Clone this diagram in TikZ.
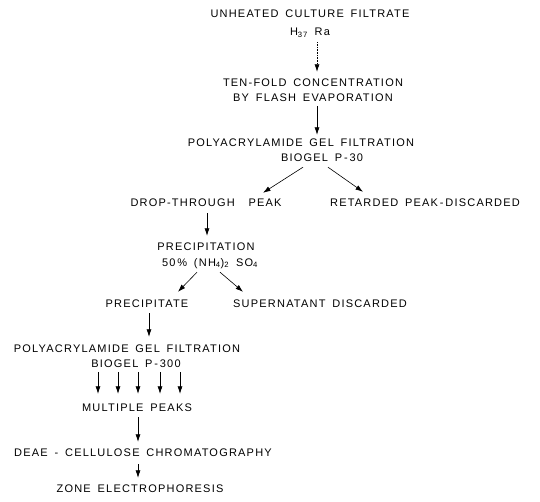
\documentclass[tikz,border=0pt]{standalone}
\usepackage{fontspec}
\setmainfont{Liberation Sans}[LetterSpace=11, WordSpace=1.6]
\usetikzlibrary{arrows.meta, calc}

\begin{document}
\begin{tikzpicture}[x=1pt, y=-1pt, >={Latex[length=7.5pt,width=5pt]},
    lbl/.style={font=\fontsize{11}{13}\selectfont, inner sep=0pt,
        text height=8pt, text depth=0pt},
    flow/.style={->, line width=0.6pt}]

    % Khung
    \useasboundingbox (0,0) rectangle (540,502);

    % 1. Dịch lọc và cô đặc
    \node[lbl] (unheated) at (310,14) {UNHEATED CULTURE FILTRATE};
    \node[lbl] (strain) at (310,32) {H\textsubscript{37} Ra};
    \node[lbl] (tenfold) at (313,83) {TEN-FOLD CONCENTRATION};
    \node[lbl] (flash) at (313,98) {BY FLASH EVAPORATION};

    % 2. Lọc gel lần 1
    \node[lbl] (gelA) at (301,143) {POLYACRYLAMIDE GEL FILTRATION};
    \node[lbl] (biogelA) at (322,158) {BIOGEL P\,-\,30};
    \node[lbl] (drop) at (206,203) {DROP-THROUGH\ \ PEAK};
    \node[lbl] (retarded) at (425,203) {RETARDED PEAK\,-\,DISCARDED};

    % 3. Kết tủa
    \node[lbl] (precip) at (206,247) {PRECIPITATION};
    \node[lbl] (salt) at (210,262) {50\,\% (NH\textsubscript{4})\textsubscript{2} SO\textsubscript{4}};
    \node[lbl] (pellet) at (147,303) {PRECIPITATE};
    \node[lbl] (super) at (320,303) {SUPERNATANT DISCARDED};

    % 4. Lọc gel lần 2 và sắc ký
    \node[lbl] (gelB) at (127,348) {POLYACRYLAMIDE GEL FILTRATION};
    \node[lbl] (biogelB) at (136,363) {BIOGEL P\,-\,300};
    \node[lbl] (multi) at (137,407) {MULTIPLE PEAKS};
    \node[lbl] (deae) at (143,452) {DEAE - CELLULOSE CHROMATOGRAPHY};
    \node[lbl] (zone) at (140,488) {ZONE ELECTROPHORESIS};

    % 5. Mũi tên
    \draw[flow, densely dotted] ($(strain.south)+(7,6)$) -- ($(tenfold.north)+(4,-7)$);
    \draw[flow] ($(flash.south)+(4,4)$) -- ($(gelA.north)+(16,-4)$);
    \draw[flow] ($(biogelA.south)+(-19,5)$) -- ($(drop.north)+(57,-6)$);
    \draw[flow] ($(biogelA.south)+(6,5)$) -- ($(retarded.north)+(-62,-7)$);
    \draw[flow] ($(drop.south)+(1,6)$) -- ($(precip.north)+(1,-7)$);
    \draw[flow] ($(salt.south)+(-13,6)$) -- ($(pellet.north)+(31,-7)$);
    \draw[flow] ($(salt.south)+(10,6)$) -- ($(super.north)+(-77,-7)$);
    \draw[flow] ($(pellet.south)+(2,6)$) -- ($(gelB.north)+(22,-7)$);
    \foreach \dx in {-39,-19,1,23,43}
        \draw[flow] ($(biogelB.south)+(\dx+1,5)$) -- ($(multi.north)+(\dx,-9)$);
    \draw[flow] ($(multi.south)+(1,6)$) -- ($(deae.north)+(-5,-6)$);
    \draw[flow] ($(deae.south)+(-5,8)$) -- ($(zone.north)+(-2,-6)$);

\end{tikzpicture}
\end{document}
